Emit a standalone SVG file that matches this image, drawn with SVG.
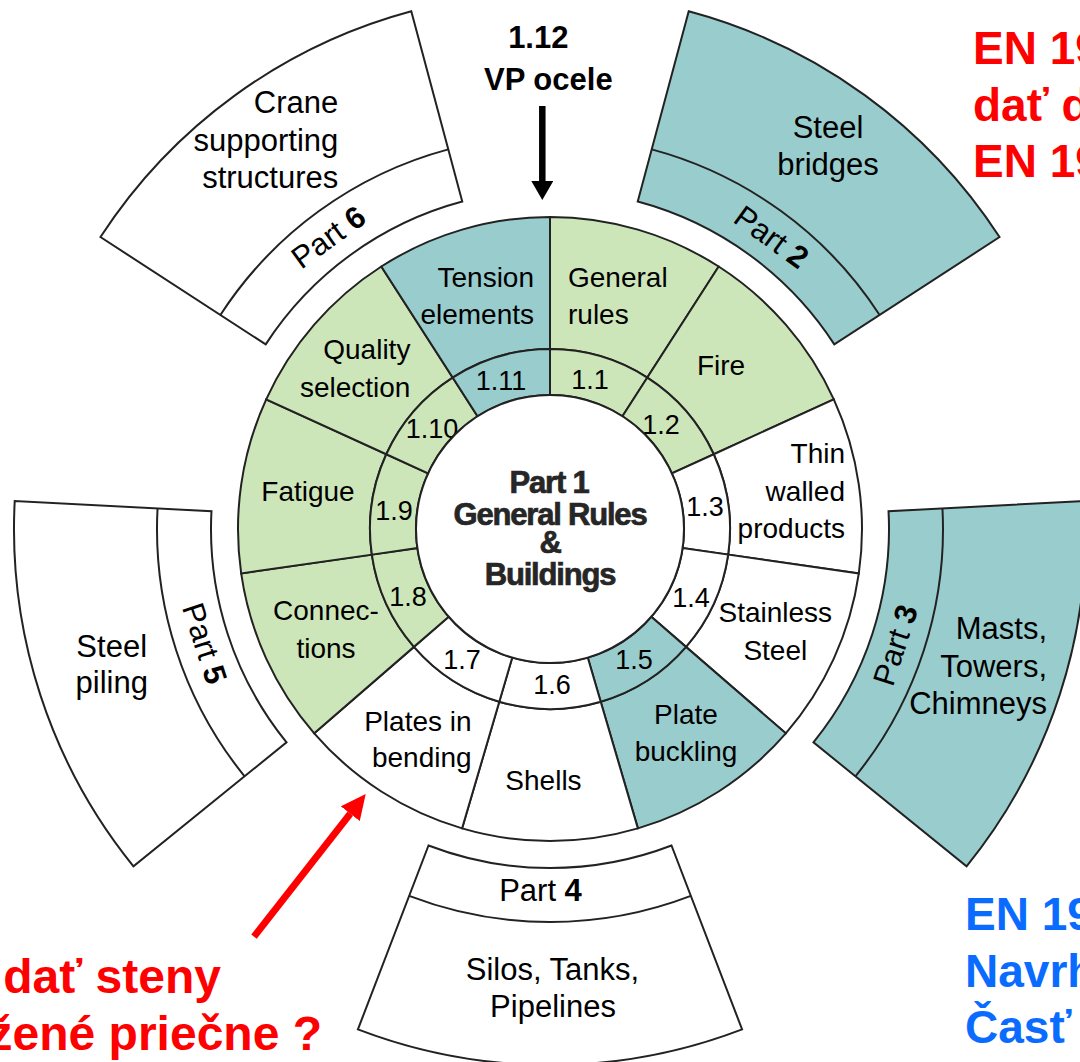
<svg xmlns="http://www.w3.org/2000/svg" width="1080" height="1062" viewBox="0 0 1080 1062">
<style>
text{font-family:"Liberation Sans",Arial,sans-serif;fill:#000}
.s{stroke:#222;stroke-width:2;stroke-linejoin:miter}
.g{fill:#CDE6B9}
.t{fill:#99CCCC}
.w{fill:#fff}
.n{fill:none}
.lab{font-size:28px}
.num{font-size:27px;text-anchor:middle}
.part{font-size:31px}
.mid{text-anchor:middle}
.end{text-anchor:end}
.ctr{font-size:31px;font-weight:bold;text-anchor:middle;fill:#262626;stroke:#262626;stroke-width:0.7;letter-spacing:-1.2px}
.red{font-weight:bold;fill:#FF0000}
.blue{font-weight:bold;fill:#0A6CFF}
</style>
<defs>
<marker id="hb" markerUnits="userSpaceOnUse" viewBox="0 0 19 22" markerWidth="19" markerHeight="22" refX="0" refY="11" orient="auto"><path d="M0,0 L19,11 L0,22 Z" fill="#000"/></marker>
<marker id="hr" markerUnits="userSpaceOnUse" viewBox="0 0 25 24" markerWidth="25" markerHeight="24" refX="0" refY="12" orient="auto"><path d="M0,0 L25,12 L0,24 Z" fill="#FF0000"/></marker>
</defs>
<rect width="1080" height="1062" fill="#fff"/>

<!-- outer parts -->
<g id="part2">
<path class="s t" d="M637.74,201.55 A339,339 0 0 1 834.31,344.37 L999.53,237.07 A536,536 0 0 0 688.73,11.26 Z"/>
<path class="s n" d="M651.72,149.39 A393,393 0 0 1 879.60,314.96"/>
<text class="part mid" transform="translate(771.7,236.7) rotate(36)" y="11">Part <tspan font-weight="bold">2</tspan></text>
<text class="part mid" x="828" y="138.3">Steel</text>
<text class="part mid" x="828" y="175">bridges</text>
</g>
<g id="part3">
<path class="s t" d="M888.54,511.26 A339,339 0 0 1 813.45,742.34 L966.55,866.32 A536,536 0 0 0 1085.27,500.95 Z"/>
<path class="s n" d="M942.46,508.43 A393,393 0 0 1 855.42,776.32"/>
<text class="part mid" transform="translate(895,645) rotate(-72)" y="11">Part <tspan font-weight="bold">3</tspan></text>
<text class="part end" x="1047" y="639">Masts,</text>
<text class="part end" x="1047" y="676.5">Towers,</text>
<text class="part end" x="1047" y="714">Chimneys</text>
</g>
<g id="part4">
<path class="s w" d="M671.49,845.48 A339,339 0 0 1 428.51,845.48 L357.91,1029.40 A536,536 0 0 0 742.09,1029.40 Z"/>
<path class="s n" d="M690.84,895.90 A393,393 0 0 1 409.16,895.90"/>
<text class="part mid" x="540.5" y="901">Part <tspan font-weight="bold">4</tspan></text>
<text class="part mid" x="552.5" y="980">Silos, Tanks,</text>
<text class="part mid" x="553" y="1016.7">Pipelines</text>
</g>
<g id="part5">
<path class="s w" d="M286.55,742.34 A339,339 0 0 1 211.46,511.26 L14.73,500.95 A536,536 0 0 0 133.45,866.32 Z"/>
<path class="s n" d="M244.58,776.32 A393,393 0 0 1 157.54,508.43"/>
<text class="part mid" transform="translate(205,643.3) rotate(72)" y="11">Part <tspan font-weight="bold">5</tspan></text>
<text class="part mid" x="111.7" y="656.7">Steel</text>
<text class="part mid" x="111.7" y="693.3">piling</text>
</g>
<g id="part6">
<path class="s w" d="M265.69,344.37 A339,339 0 0 1 462.26,201.55 L411.27,11.26 A536,536 0 0 0 100.47,237.07 Z"/>
<path class="s n" d="M220.40,314.96 A393,393 0 0 1 448.28,149.39"/>
<text class="part mid" transform="translate(328.3,236.7) rotate(-36)" y="11">Part <tspan font-weight="bold">6</tspan></text>
<text class="part end" x="338.3" y="113.3">Crane</text>
<text class="part end" x="338.3" y="151">supporting</text>
<text class="part end" x="338.3" y="188.3">structures</text>
</g>

<!-- Part 1 segments -->
<g id="seg1-1">
<path class="s g" d="M550,217 A312,312 0 0 1 718.68,266.53 L647.32,377.57 A180,180 0 0 0 550,349 Z"/>
<path class="s g" d="M550,349 A180,180 0 0 1 647.32,377.57 L622.45,416.27 A134,134 0 0 0 550,395 Z"/>
<text class="lab" x="568" y="287">General</text>
<text class="lab" x="568" y="324">rules</text>
<text class="num" x="590" y="388.6">1.1</text>
</g>
<g id="seg1-2">
<path class="s g" d="M718.68,266.53 A312,312 0 0 1 833.80,399.39 L713.73,454.22 A180,180 0 0 0 647.32,377.57 Z"/>
<path class="s g" d="M647.32,377.57 A180,180 0 0 1 713.73,454.22 L671.89,473.33 A134,134 0 0 0 622.45,416.27 Z"/>
<text class="lab mid" x="721" y="375">Fire</text>
<text class="num" x="661" y="433.5">1.2</text>
</g>
<g id="seg1-3">
<path class="s w" d="M833.80,399.39 A312,312 0 0 1 858.82,573.40 L728.17,554.62 A180,180 0 0 0 713.73,454.22 Z"/>
<path class="s w" d="M713.73,454.22 A180,180 0 0 1 728.17,554.62 L682.64,548.07 A134,134 0 0 0 671.89,473.33 Z"/>
<text class="lab end" x="845" y="463">Thin</text>
<text class="lab end" x="845" y="501">walled</text>
<text class="lab end" x="845" y="538">products</text>
<text class="num" x="705" y="516">1.3</text>
</g>
<g id="seg1-4">
<path class="s w" d="M858.82,573.40 A312,312 0 0 1 785.79,733.32 L686.04,646.87 A180,180 0 0 0 728.17,554.62 Z"/>
<path class="s w" d="M728.17,554.62 A180,180 0 0 1 686.04,646.87 L651.27,616.75 A134,134 0 0 0 682.64,548.07 Z"/>
<text class="lab mid" x="775.3" y="622">Stainless</text>
<text class="lab mid" x="775.3" y="660">Steel</text>
<text class="num" x="691" y="607">1.4</text>
</g>
<g id="seg1-5">
<path class="s t" d="M785.79,733.32 A312,312 0 0 1 637.90,828.36 L600.71,701.71 A180,180 0 0 0 686.04,646.87 Z"/>
<path class="s t" d="M686.04,646.87 A180,180 0 0 1 600.71,701.71 L587.75,657.57 A134,134 0 0 0 651.27,616.75 Z"/>
<text class="lab mid" x="686" y="724">Plate</text>
<text class="lab mid" x="686" y="761">buckling</text>
<text class="num" x="634" y="668.6">1.5</text>
</g>
<g id="seg1-6">
<path class="s w" d="M637.90,828.36 A312,312 0 0 1 462.10,828.36 L499.29,701.71 A180,180 0 0 0 600.71,701.71 Z"/>
<path class="s w" d="M600.71,701.71 A180,180 0 0 1 499.29,701.71 L512.25,657.57 A134,134 0 0 0 587.75,657.57 Z"/>
<text class="lab mid" x="543.5" y="790">Shells</text>
<text class="num" x="552" y="694">1.6</text>
</g>
<g id="seg1-7">
<path class="s w" d="M462.10,828.36 A312,312 0 0 1 314.21,733.32 L413.96,646.87 A180,180 0 0 0 499.29,701.71 Z"/>
<path class="s w" d="M499.29,701.71 A180,180 0 0 1 413.96,646.87 L448.73,616.75 A134,134 0 0 0 512.25,657.57 Z"/>
<text class="lab end" x="471.6" y="730.6">Plates in</text>
<text class="lab end" x="471.6" y="767.3">bending</text>
<text class="num" x="462" y="668.6">1.7</text>
</g>
<g id="seg1-8">
<path class="s g" d="M314.21,733.32 A312,312 0 0 1 241.18,573.40 L371.83,554.62 A180,180 0 0 0 413.96,646.87 Z"/>
<path class="s g" d="M413.96,646.87 A180,180 0 0 1 371.83,554.62 L417.36,548.07 A134,134 0 0 0 448.73,616.75 Z"/>
<text class="lab mid" x="326" y="620.4">Connec-</text>
<text class="lab mid" x="326" y="658">tions</text>
<text class="num" x="408" y="606">1.8</text>
</g>
<g id="seg1-9">
<path class="s g" d="M241.18,573.40 A312,312 0 0 1 266.20,399.39 L386.27,454.22 A180,180 0 0 0 371.83,554.62 Z"/>
<path class="s g" d="M371.83,554.62 A180,180 0 0 1 386.27,454.22 L428.11,473.33 A134,134 0 0 0 417.36,548.07 Z"/>
<text class="lab mid" x="308" y="501">Fatigue</text>
<text class="num" x="394" y="520">1.9</text>
</g>
<g id="seg1-10">
<path class="s g" d="M266.20,399.39 A312,312 0 0 1 381.32,266.53 L452.68,377.57 A180,180 0 0 0 386.27,454.22 Z"/>
<path class="s g" d="M386.27,454.22 A180,180 0 0 1 452.68,377.57 L477.55,416.27 A134,134 0 0 0 428.11,473.33 Z"/>
<text class="lab end" x="410.4" y="359">Quality</text>
<text class="lab end" x="410.4" y="397">selection</text>
<text class="num" x="432" y="438">1.10</text>
</g>
<g id="seg1-11">
<path class="s t" d="M381.32,266.53 A312,312 0 0 1 550,217 L550,349 A180,180 0 0 0 452.68,377.57 Z"/>
<path class="s t" d="M452.68,377.57 A180,180 0 0 1 550,349 L550,395 A134,134 0 0 0 477.55,416.27 Z"/>
<text class="lab end" x="534" y="287">Tension</text>
<text class="lab end" x="534" y="324">elements</text>
<text class="num" x="501" y="390">1.11</text>
</g>
<g id="part1">
<circle class="s w" cx="550" cy="529" r="134"/>
<text class="ctr" x="549" y="492.7">Part 1</text>
<text class="ctr" x="550" y="524.5">General Rules</text>
<text class="ctr" x="550" y="553">&amp;</text>
<text class="ctr" x="550" y="584.5">Buildings</text>
</g>

<g id="label-1-12">
<text class="mid" x="538.3" y="48.3" font-size="31" font-weight="bold">1.12</text>
<text class="mid" x="548.3" y="90" font-size="31" font-weight="bold">VP ocele</text>
</g>

<g id="notes">
<text class="red" font-size="46" x="973" y="64">EN 19</text>
<text class="red" font-size="46" x="973" y="120.5">dať d</text>
<text class="red" font-size="46" x="973" y="177">EN 19</text>
<text class="blue" font-size="46" x="965" y="930">EN 19</text>
<text class="blue" font-size="46" x="965" y="986.5">Navrh</text>
<text class="blue" font-size="46" x="965" y="1043">Časť</text>
<text class="red end" font-size="48" x="221" y="993.3">dať steny</text>
<text class="red end" font-size="48" x="322" y="1050">žené priečne ?</text>
</g>

<g id="connectors">
<line x1="542.3" y1="106" x2="542.3" y2="181" stroke="#000" stroke-width="6.5" marker-end="url(#hb)"/>
<line x1="254" y1="936.7" x2="350.3" y2="813.7" stroke="#FF0000" stroke-width="7" marker-end="url(#hr)"/>
</g>
</svg>
